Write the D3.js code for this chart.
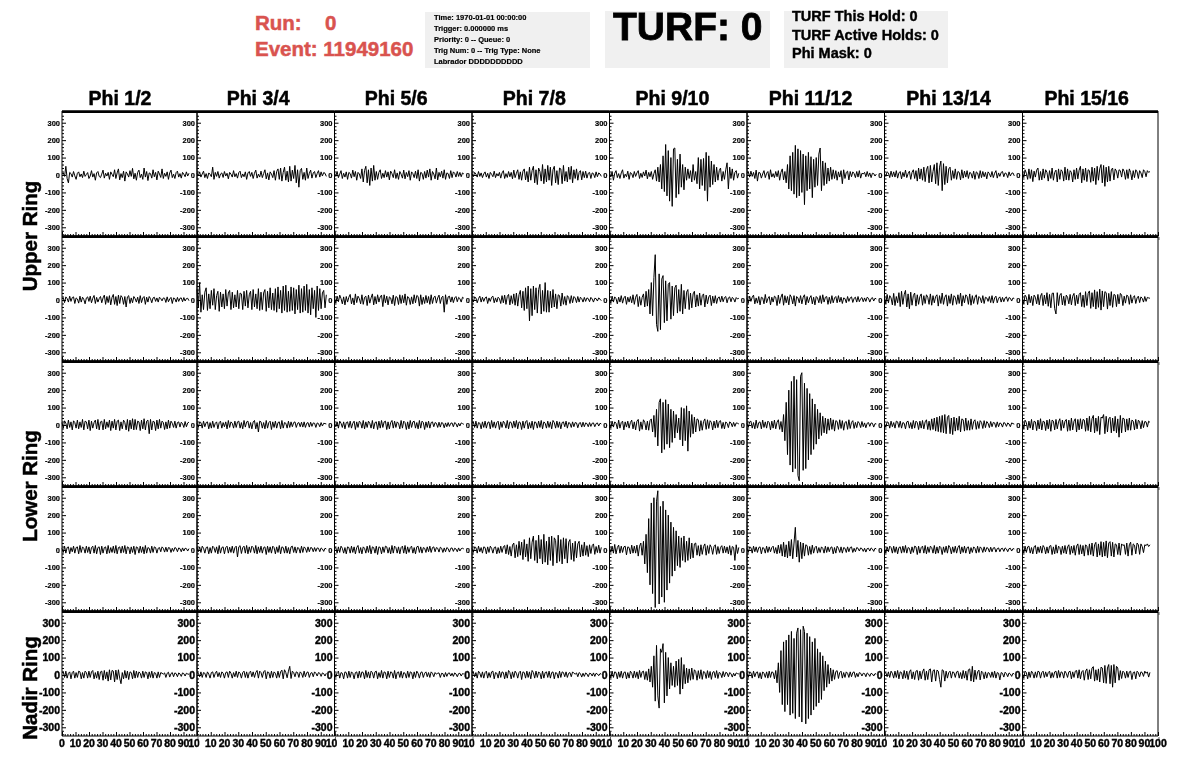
<!DOCTYPE html>
<html><head><meta charset="utf-8">
<script src="https://cdn.jsdelivr.net/npm/d3@7"></script>
<style>
body{margin:0;background:#fff}
svg{color:#000}
text{font-family:"Liberation Sans",Arial,Helvetica,sans-serif;font-weight:bold;stroke:#000;stroke-width:0.4px}
text.sm{stroke-width:0.18px}
text.red{stroke:#d9534f;stroke-width:0.5px}
</style>
</head><body>
<svg id="c" width="1196" height="772"></svg>
<script>
// ---------------- DATA ----------------
const runNumber = "0";
const eventNumber = "11949160";
const infoLines = ["Time: 1970-01-01 00:00:00","Trigger: 0.000000 ms","Priority: 0 -- Queue: 0","Trig Num: 0 -- Trig Type: None","Labrador DDDDDDDDDD"];
const turfText = "TURF: 0";
const turfLines = ["TURF This Hold: 0","TURF Active Holds: 0","Phi Mask: 0"];
const phiLabels = ["Phi 1/2","Phi 3/4","Phi 5/6","Phi 7/8","Phi 9/10","Phi 11/12","Phi 13/14","Phi 15/16"];
const ringLabels = ["Upper Ring","Lower Ring","Nadir Ring"];
const yTicks = [-300,-200,-100,0,100,200,300];
const xTicks = [0,10,20,30,40,50,60,70,80,90,100];
const sampleStep = 0.95; // time between samples (x axis units)

// Upper ring, first row
const U1_P01 = [5,12,-8,50,-20,-45,15,8,-12,20, -5,-25,10,18,-10,6,-15,22,-8,3, 14,-20,-6,25,-12,8,-30,12,20,-8, -15,5,28,-18,10,-6,15,-25,18,4, -10,30,-20,12,35,-28,8,-15,22,-35, 18,6,-12,25,-8,38,-22,10,-30,15, 28,-15,5,-25,40,-12,20,-32,12,8, -18,30,-10,15,-28,22,6,-14,35,-20, 10,-8,18,-25,12,28,-15,5,-20,14, 22,-12,8,-18,15,4,-10,18,-6,10];
const U1_P03 = [10,-5,18,-12,6,22,-15,8,-20,12, 4,-10,45,-25,15,-8,20,-18,6,12, -14,20,-6,10,-22,15,5,-12,25,-10, 8,-18,14,22,-15,6,-10,18,-25,12, 20,-8,15,-20,10,28,-18,5,-12,22, -15,8,30,-22,12,-28,18,6,-15,25, -30,20,35,-25,40,-35,15,45,-30,22, -40,50,-35,28,-20,55,-45,30,-70,25, 38,-25,15,-30,40,-20,10,28,-18,12, 20,-15,8,25,-12,18,-6,14,10,-8];
const U1_P05 = [12,-8,20,-15,5,25,-20,10,-12,18, -25,15,8,-18,28,-10,20,-30,15,6, -20,35,-40,25,50,-45,30,-60,40,-35, 55,-30,20,-25,15,30,-20,10,-15,25, -12,18,-28,22,8,-15,30,-20,12,-25, 20,5,-18,28,-22,15,-10,25,-30,18, 8,-15,22,-20,30,-35,15,10,-25,20, -18,28,-12,35,-30,20,6,-22,40,-28, 15,-10,22,-18,30,-25,12,8,-20,25, -15,18,10,-12,20,-8,15,-10,12,6];
const U1_P07 = [8,-10,15,5,-12,20,-8,12,-15,6, 18,-12,10,-20,15,4,-10,22,-15,8, -6,15,-18,12,25,-20,8,-14,20,-10, 15,-22,28,-15,10,30,-25,18,-30,22, 35,-28,20,-40,45,-30,25,50,-45,30, -55,40,20,-35,60,-50,35,-40,55,-30, 45,-60,30,50,-45,25,-55,40,35,-50, 55,-35,20,-40,45,-25,50,-45,30,-20, 35,-30,15,25,-28,20,-15,22,-18,10, 15,-20,12,8,-15,18,-10,12,6,-8];
const U1_P09 = [15,-12,20,-30,10,25,-15,8,-20,12, 30,-18,5,-10,22,-25,14,8,-15,20, -8,12,25,-20,10,-14,18,-6,28,-22, 15,-10,20,-25,8,30,-35,45,-40,60, -80,110,-95,175,-120,140,-150,100,-180,150, 155,-130,90,-110,120,-70,60,-85,45,-30, 35,-20,25,-40,60,-30,20,-50,100,-80, 90,-60,95,-90,130,-150,110,-70,80,-55, 60,-40,45,-30,25,40,-35,20,-25,30, 70,-80,45,-20,35,-30,15,25,-18,10];
const U1_P11 = [10,18,-12,22,-8,15,-20,28,-35,15, 12,-18,6,25,-15,10,20,-25,30,-12, 8,-15,20,-10,25,-30,15,35,-28,20, -45,60,-80,110,-90,130,-110,170,-130,150, -120,140,-100,120,-170,110,-90,130,-80,105, -130,90,-70,100,-60,120,155,-90,80,-60, 70,-50,40,-35,45,-25,30,-20,25,-30, 18,-12,25,-50,30,-20,15,22,-28,20, -10,18,8,-15,20,-12,25,-18,10,6, 15,-10,20,-8,12,-15,10,8,-6,5];
const U1_P13 = [10,-8,18,12,-15,22,-10,18,-12,25, -18,12,20,-22,15,-10,28,-15,8,22, -25,15,30,-20,25,-35,40,-22,35,-30, 45,-38,30,50,-45,55,-40,20,60,-50, 70,-60,45,80,-90,65,-55,50,-45,35, 45,-30,25,-20,35,-25,20,15,-28,30, -18,22,-12,25,-20,15,10,-18,22,-25, 18,12,-20,25,-15,20,-10,15,-22,18, 8,-12,20,-15,10,25,-18,12,-8,15, 20,-10,12,8,-15,18,-6,10,12,-5];
const U1_P15 = [20,-15,30,10,-25,35,-20,30,-38,22, -12,28,40,-30,20,-28,35,-18,30,15, -35,25,-20,40,-30,15,28,-40,35,-25, 30,20,-35,45,-28,35,-30,25,15,-40, 30,-25,40,-22,28,50,-45,35,-30,40, -38,30,25,-42,45,-35,40,-55,50,-30, 35,60,-45,55,-65,45,-40,50,-35,30, 40,-28,35,22,-18,30,25,-12,35,20, -25,30,-20,35,15,-28,25,-15,30,18, -20,25,12,-15,30,20,-10,25,15,20];
// Upper ring, second row
const U2_P01 = [6,12,-15,18,8,-12,22,-8,14,18, -20,12,6,-18,22,-12,16,4,-22,12, 18,-8,22,-16,10,26,-20,15,-12,8, 20,-16,12,28,-25,20,-15,25,-28,15, 32,-25,20,-32,28,-20,25,15,-25,20, -40,18,25,-20,12,-16,20,8,-12,16, -20,25,-15,12,20,-25,16,-12,20,8, -16,12,16,-8,12,-12,16,8,-5,12, 10,-14,18,-10,6,15,-20,12,8,-12, 15,-8,10,12,-10,14,-6,8,10,-4];
const U2_P03 = [60,-40,100,-70,30,-55,45,70,-60,35, -50,55,-30,65,-55,25,50,-65,45,-40, 35,-50,60,-35,40,55,-55,45,-45,30, -40,55,-50,40,35,-55,50,-35,55,-45, 30,50,-55,60,-40,35,-50,65,-60,45, -55,40,60,-65,50,-45,70,-55,40,-60, 65,-70,75,-50,55,-75,80,-60,85,-70, 50,-65,75,-60,70,-80,60,-55,85,-75, 65,-70,80,-60,90,-75,60,-85,70,-50, 55,-100,80,-60,65,-50,40,55,-45,30];
const U2_P05 = [15,-18,22,-10,28,8,-22,18,-28,20, -12,16,32,-22,12,-28,35,-15,22,8, -22,30,-25,15,22,-32,28,-18,12,35, -28,20,-22,30,-12,18,28,-38,30,-16, 22,-28,18,12,-22,28,-32,20,15,-26, 30,-20,26,-16,35,-30,20,12,-26,18, -22,30,-16,26,20,-35,30,-26,16,-20, 26,-16,20,-25,30,-20,15,22,-18,12, 28,-20,15,22,-70,30,-25,18,22,-12, 18,-15,12,20,-10,15,8,-12,16,10];
const U2_P07 = [8,-12,18,12,-16,8,22,-12,16,-8, 12,18,-20,12,-8,16,22,-16,12,-12, 16,8,-20,25,-16,28,-25,20,32,-28, 25,-20,35,-30,40,-35,30,55,-45,50, -60,70,-50,80,-120,65,-90,80,-55,70, -75,60,90,-80,55,-65,100,-70,55,-70, 50,-45,60,-40,35,-50,30,25,-35,40, -25,20,-30,25,15,-20,25,-16,20,12, -15,20,-12,16,8,-12,15,-8,12,8, -10,15,6,-12,10,8,-6,12,5,-4];
const U2_P09 = [10,-18,22,-12,18,8,-22,16,-12,25, -18,12,22,-25,16,-12,20,-16,30,-25, 16,32,-38,20,-30,15,35,-40,50,-35, 60,-80,100,-90,130,260,-140,-180,150,-170, 120,140,-130,110,-120,90,100,-110,80,-90, 70,85,-75,60,-65,90,-80,55,-50,45, 60,-55,40,-45,35,50,-40,30,-35,40, -30,25,35,-40,28,-22,18,28,-32,22, -18,25,-20,12,18,-12,22,-10,14,20, -16,12,18,-10,15,8,-12,14,6,10];
const U2_P11 = [12,-18,22,-8,16,28,-22,12,-18,20, -28,16,12,-22,32,-16,8,20,-28,16, -12,22,16,-32,28,-20,16,35,-30,25, -16,20,-28,30,16,-22,25,-35,20,12, -16,25,-22,16,30,-28,20,-16,12,25, -22,16,-28,20,12,-16,25,-20,30,-12, 16,20,-25,16,-20,25,-16,12,20,-16, 25,-12,16,-20,12,8,-16,20,-8,12, 18,-14,10,16,-12,20,-10,8,14,-10, 12,-8,16,10,-12,8,14,-6,10,6];
const U2_P13 = [18,-22,32,-16,25,12,-28,38,-32,20, -16,42,-38,50,-25,30,55,-40,35,-50, 45,-30,25,40,-35,30,-25,20,35,-30, 25,-20,30,16,-25,35,-30,25,-16,20, 30,-35,25,-20,40,-25,16,30,-35,25, -20,35,-30,25,16,-25,30,-20,40,-35, 25,-16,30,20,-25,35,-30,25,-20,16, 30,-25,20,12,-16,25,-20,16,12,-8, 20,-15,25,-18,12,22,-16,10,18,-12, 15,-10,12,18,-8,14,10,-6,12,8];
const U2_P15 = [12,-22,28,16,-28,32,-16,22,-32,28, 16,-22,32,-28,22,38,-32,28,-22,42, -36,32,-45,38,40,-50,-80,42,-32,28, 38,-28,22,-32,28,16,-22,32,-28,22, 38,-32,28,-22,32,42,-38,28,-42,48, -32,38,52,-48,42,-38,58,-52,48,-42, 62,-58,52,-38,48,42,-52,38,-32,48, -42,32,28,-38,32,-22,38,28,-32,22, -18,28,22,-25,30,-18,15,25,-20,12, 22,-15,18,10,-12,20,-8,15,12,10];
// Lower ring, first row
const L1_P01 = [14,-18,24,10,-22,28,-14,18,-28,24, 14,-18,28,-22,18,-14,32,-28,22,18, -22,28,-32,22,-18,14,28,-22,32,-28, 18,22,-28,32,-22,18,-14,28,-32,22, -18,32,-28,22,28,-32,18,-22,28,14, -28,32,-36,28,-22,36,-28,32,-26,22, 18,-32,28,-22,36,-28,22,28,-50,32, -28,22,18,-32,28,-22,32,-18,22,14, -26,18,-22,28,-18,22,10,-14,22,-18, 14,18,-12,16,8,-14,20,-10,12,16];
const L1_P03 = [10,-14,18,14,-18,22,-10,14,18,-22, 14,-18,22,-14,10,18,-22,14,22,-18, 14,-10,18,-22,26,-14,18,10,-18,22, -14,18,22,-18,14,-22,26,-12,18,22, -18,14,-22,18,26,-22,14,-40,22,18, -18,14,-22,26,-18,14,22,-26,18,-14, 22,-18,14,18,-22,26,-18,14,10,-18, 22,-14,18,-10,14,18,-14,10,14,-10, 16,-12,18,-14,10,14,-12,16,-8,12, 10,-14,12,8,-10,14,-6,10,8,6];
const L1_P05 = [14,-10,18,-18,22,10,-14,18,-22,14, 18,-14,22,-18,10,22,-26,18,-14,22, 14,-18,26,-22,18,-14,22,10,-18,26, -22,14,18,-26,22,-18,26,-14,18,22, -26,18,-22,14,26,-18,22,-14,18,10, -22,26,-18,22,14,-26,18,-22,26,-14, 18,22,-18,14,-22,26,-18,22,14,-26, 18,-14,22,-18,14,18,-10,14,10,-14, 16,-12,14,10,-16,12,-10,14,-8,10, 12,-10,14,8,-12,10,-6,12,8,4];
const L1_P07 = [10,18,-14,22,-18,14,10,-22,18,-14, 22,-18,14,18,-22,26,-14,18,-18,14, 22,-26,18,-14,22,10,-18,26,-22,18, 14,-18,22,-14,26,-22,18,14,-26,22, -18,18,26,-22,14,-18,22,-26,18,14, -18,22,-14,26,-22,18,10,-18,22,-14, 18,-22,26,14,-18,22,-14,18,-22,14, 18,-10,22,-18,14,10,-14,18,-10,14, 12,-16,10,14,-12,16,-10,12,8,-10, 14,-8,10,12,-10,8,12,-6,10,6];
const L1_P09 = [14,-18,22,-12,18,10,-22,28,-18,14, 22,-28,18,-12,22,-18,14,28,-22,18, -28,22,32,-35,18,-25,30,15,-28,22, -30,25,35,-40,55,-70,90,-120,130,150, -160,130,-140,145,-110,120,-130,90,-100,80, -75,60,-45,40,-85,100,-120,95,-90,110, -150,80,-70,60,-50,45,-40,35,30,-35, 25,-30,20,35,-25,30,-20,25,15,-28, 22,-18,28,-15,20,25,-20,15,-22,18, 10,-15,18,12,-10,15,-8,12,10,6];
const L1_P11 = [10,-14,18,22,-18,14,-22,28,-18,14, 18,-22,28,-14,18,-18,22,14,-28,22, -18,28,-22,16,30,-25,20,-40,60,-90, 130,-170,200,-230,250,-270,280,-250,260,-290, -320,280,300,-260,240,-250,210,-200,180,-170, 150,-140,120,-110,90,-80,70,-60,50,-45, 40,-50,35,-30,40,-25,30,-35,25,20, -25,30,-20,25,-30,15,20,-25,30,-20, 15,25,-20,15,-15,20,10,-15,20,-10, 12,-16,10,14,-8,12,10,-12,8,6];
const L1_P13 = [10,-14,18,14,-18,22,-10,14,-18,22, 18,-14,22,-18,14,10,-22,18,22,-18, 14,-22,26,-18,22,14,-26,22,-18,26, -22,18,30,-26,22,-30,35,-26,40,-35, 45,-38,50,-42,55,-45,60,-50,45,55, -50,40,-55,45,-35,40,-30,50,-40,35, 30,-35,40,-30,25,-30,35,-25,20,30, -25,20,-20,25,15,-20,25,-15,20,10, -15,20,-10,15,12,-14,18,-10,12,8, -12,14,10,-8,12,6,-10,12,8,5];
const L1_P15 = [18,-22,28,14,-28,22,-18,32,-28,22, 18,-32,28,-22,36,-28,22,18,-32,28, -22,32,-36,28,22,-28,32,-22,18,36, -32,28,-18,22,32,-36,28,-32,40,-28, 22,36,-40,32,-28,36,-22,32,28,-36, 40,-32,50,-40,36,55,-45,40,-36,50, -55,45,40,60,-50,50,-40,35,45,-45, 40,-35,50,-45,35,-70,55,-45,40,35, -40,35,-30,40,-30,28,22,-28,32,-22, 28,18,-22,25,-15,20,18,-12,22,15];
// Lower ring, second row
const L2_P01 = [10,-14,22,-18,14,18,-22,14,-10,22, -18,14,18,-22,26,-14,18,10,-18,22, -14,18,-22,14,22,-18,26,-22,14,18, -26,22,-18,14,18,-22,26,-18,14,-14, 22,-18,26,-22,14,18,-18,22,-14,26, -22,18,14,-22,18,-14,22,-26,18,14, -18,22,-14,18,-22,26,-18,14,10,-18, 22,-14,18,14,-18,10,14,-10,18,10, -12,16,-10,14,12,-14,10,-8,14,10, -10,12,8,-10,12,-6,10,8,-6,8];
const L2_P03 = [14,-10,18,-14,22,10,-18,14,18,-22, 14,-18,22,14,-14,18,-22,26,-18,14, 18,-22,14,22,-18,16,-14,22,-18,14, 22,-40,18,25,-20,14,22,-18,26,-22, 18,-14,22,14,-18,26,-22,18,-14,22, -18,14,18,-26,22,-14,18,-18,22,14, -22,18,-14,26,-22,18,14,-18,22,-18, 14,-22,18,22,-14,18,-18,14,10,-18, 22,-14,18,10,-14,18,-10,14,12,-10, 14,-8,12,10,-10,12,6,-8,10,6];
const L2_P05 = [10,14,-18,18,-14,22,10,-18,14,-22, 18,14,-18,22,-14,18,-22,14,26,-18, 14,-22,18,10,-18,22,-14,26,-22,18, 14,-18,22,-26,18,14,-22,18,-14,22, 18,-18,14,-22,26,-18,22,14,-18,18, -22,14,22,-18,26,-22,18,-14,14,22, -18,14,-22,18,22,-14,18,-18,14,10, -14,18,-10,22,-14,14,18,-10,14,10, -12,16,10,-14,12,-10,14,8,-12,10, 12,-8,10,6,-10,12,-6,8,10,6];
const L2_P07 = [10,-14,18,14,-18,22,-10,14,-18,18, 14,-22,18,-14,22,10,-18,14,18,-22, 14,-18,22,-14,18,26,-22,30,-26,20, -35,28,40,-45,30,-38,50,-30,45,-55, 60,-40,35,-65,70,-50,45,80,-60,55, -75,85,-50,60,-80,90,-70,50,-85,75, -60,80,-90,70,55,-75,85,-65,60,-80, 70,-50,65,-75,45,60,-55,40,-65,50, -45,35,50,-40,30,-35,45,-30,25,-38, 30,-20,25,35,-25,20,-15,28,-18,15];
const L2_P09 = [18,-14,22,-18,32,-22,14,28,-18,22, -14,18,22,-28,18,14,-22,28,-18,22, -18,28,-35,22,40,-30,50,-80,90,-130, 180,-200,270,-250,300,-330,280,340,-310,250, -270,280,-300,230,-230,200,-190,160,-150,130, -120,110,-90,80,-100,70,-60,80,-70,50, -60,70,-50,40,-45,35,40,-30,25,-35, 30,-25,20,35,-30,25,-20,30,15,-25, 20,30,-25,20,-20,15,25,-18,22,-15, 18,-22,25,-30,20,15,-60,30,-20,15];
const L2_P11 = [10,-14,18,14,-18,22,-10,18,-14,14, 18,-22,14,10,-18,22,-14,18,-10,14, 22,-18,14,-22,28,-18,32,-35,45,-40, 30,-45,50,-35,60,-50,40,130,-40,55, -70,45,-50,40,-35,30,25,-30,20,-25, 28,-18,14,22,-18,14,-14,18,10,-18, 22,-14,18,-10,14,18,-22,14,-18,22, 10,-14,18,-18,14,10,-14,18,-10,14, 18,-14,10,-10,14,10,-6,12,8,-8, 10,-12,8,10,-6,12,6,-8,10,6];
const L2_P13 = [14,-18,18,-10,22,14,-18,22,-14,18, -22,14,18,-18,22,-14,26,-18,14,10, -22,18,-14,22,18,-26,22,-18,14,22, -18,26,-22,18,-14,22,14,-18,26,-22, 18,-18,22,14,-26,18,-14,22,-18,26, 14,-22,18,-14,22,-18,14,26,-22,18, -14,22,-18,14,18,-22,14,-14,18,10, -18,22,-14,18,10,-14,18,-10,14,10, -12,16,-10,12,14,-12,8,12,-10,8, 10,-8,12,6,-10,8,10,-6,8,6];
const L2_P15 = [14,-18,22,-14,18,22,-18,14,-22,18, 26,-22,18,-14,22,-18,26,14,-22,18, -18,22,26,-26,18,-22,30,-18,22,14, -26,22,-18,26,-22,18,30,-26,22,-18, 26,-30,22,35,-26,30,-22,26,-35,30, 22,-30,35,-26,40,-35,30,44,-40,35, -30,48,-40,44,-35,52,-44,40,48,-35, 44,-40,35,30,-26,40,-30,35,26,30, -25,40,-35,30,45,-30,35,28,-22,40, 30,-25,35,20,-15,30,25,35,20,30];
// Nadir ring
const N_P01 = [14,18,-14,22,-18,10,18,-22,14,22, -18,14,-14,22,18,-22,14,-18,22,14, -18,22,-14,18,26,-22,14,-18,22,-26, 18,22,-30,26,-22,18,-35,30,-28,26, 22,-40,28,-26,30,-18,-50,14,-22,26, -18,22,-26,18,14,-22,26,-18,22,-14, 18,10,-18,22,-14,18,14,-22,18,-14, 22,-18,14,10,-18,18,-14,14,10,5, 12,-14,10,16,-12,8,14,-10,12,8, -10,12,6,-8,12,8,-6,10,6,4];
const N_P03 = [14,10,-10,18,-14,14,10,-14,18,5, -18,14,18,-14,10,22,-10,14,-14,18, 10,-18,14,18,-14,22,10,-18,14,-10, 22,-14,18,10,-18,14,22,-14,18,-18, 14,22,-10,18,-14,14,26,-18,22,14, -14,18,26,-22,18,14,-18,22,-14,18, 10,-18,22,-14,18,28,-22,30,14,-16, 22,50,-20,22,14,-10,18,14,-14,18, 10,-14,22,-10,14,18,-14,10,14,-10, 18,10,-6,14,10,-8,12,8,-6,10];
const N_P05 = [18,-14,14,22,-18,14,10,-22,18,14, -18,22,-14,18,10,-22,14,18,-18,22, -14,18,14,-22,26,-14,18,-18,22,14, -18,18,22,-22,14,-14,26,-18,18,14, -22,22,-14,18,14,-18,26,-22,14,18, -14,22,-18,14,10,-18,22,-14,18,14, -22,18,-14,22,10,-18,14,18,-14,10, 18,-10,14,-14,18,10,-10,14,5,10, 12,-14,10,8,-12,14,-8,10,12,-6, 10,-8,12,6,-10,8,10,-6,8,6];
const N_P07 = [14,18,-10,14,-18,22,10,-14,18,-18, 14,22,-18,14,-14,18,22,-22,14,10, -18,22,-14,18,14,-22,18,-18,26,14, -22,18,-14,22,10,-18,14,22,-26,18, 14,-18,22,-14,18,-22,26,14,-18,22, -14,18,10,-22,22,-18,14,18,-14,22, -18,14,18,-22,14,10,-18,22,-14,18, 14,-10,18,-14,10,14,-10,18,10,5, 12,-10,14,8,-12,10,-8,12,6,-10, 10,8,-6,12,-8,10,6,-4,8,5];
const N_P09 = [14,-18,22,-14,18,14,-22,18,-14,22, -18,14,18,-22,14,-18,22,10,-18,22, -14,18,-22,26,-14,18,22,-26,20,-30, 35,-40,50,-70,110,-150,170,-120,-190,150, 130,180,-160,130,-120,100,-80,70,-60,50, -70,80,-60,90,-110,100,-80,60,-50,40, -45,35,-30,40,-25,30,20,-30,25,-20, 30,-25,20,15,-20,25,-15,20,-25,15, 20,-15,25,-20,15,10,-15,20,-10,15, 12,-10,14,8,-12,10,-6,12,8,6];
const N_P11 = [10,-14,18,14,-18,22,-10,14,18,-18, 14,-22,18,10,-14,18,-18,22,-14,18, 14,-22,26,-45,70,-100,140,-170,190,-210, 200,-170,230,-230,250,-220,210,-250,240,270, -240,260,-270,280,250,-280,240,-250,220,-230, 190,-200,210,-180,150,-160,130,-140,110,-90, 80,-70,60,-50,40,-35,30,-25,20,25, -20,14,22,-18,14,-14,18,10,-14,18, -10,14,18,-14,10,-10,14,10,-6,10, 8,-10,12,6,-8,10,6,-6,8,5];
const N_P13 = [10,14,-10,18,-14,22,10,-18,22,-14, 26,-22,18,14,-22,26,-18,22,-26,18, 30,-22,18,-26,22,26,-30,22,-22,18, 35,-30,22,-26,30,35,-40,25,30,-35, 28,22,-25,-70,30,25,-35,22,-18,14, 22,-18,18,14,-14,18,22,-18,14,-22, 26,-18,22,-30,30,35,-35,50,-40,28, -25,18,28,-28,22,14,-22,18,-18,14, 10,-14,18,-14,22,-18,14,10,-28,14, 10,-12,16,8,-10,12,6,-8,10,5];
const N_P15 = [10,-18,22,14,-22,18,-14,22,10,-18, 18,-14,22,18,-18,14,22,-14,18,-10, 14,22,-18,14,-14,18,22,-18,26,-14, 18,14,-18,22,10,-14,18,22,-22,18, -14,22,26,-18,30,-22,18,26,-30,22, 35,-26,30,-22,40,48,-35,30,-30,35, -40,45,40,-45,55,-48,40,60,-50,55, -70,60,-45,50,40,-30,25,-20,22,14, -18,22,-14,18,22,-26,14,18,-22,22, 14,-10,18,14,-8,22,10,18,-12,15];

// ---------------- LAYOUT ----------------
const FONT = '"Liberation Sans", Arial, Helvetica, sans-serif';
const RED = "#d9534f";
const GRAYBOX = "#f0f0f0";
const colEdges = [62, 197, 334.5, 472, 609.5, 747, 884.5, 1022.5, 1158];
const rowTop0 = 111, rowH = 125;
const grid = [
  [U1_P01, U1_P03, U1_P05, U1_P07, U1_P09, U1_P11, U1_P13, U1_P15],
  [U2_P01, U2_P03, U2_P05, U2_P07, U2_P09, U2_P11, U2_P13, U2_P15],
  [L1_P01, L1_P03, L1_P05, L1_P07, L1_P09, L1_P11, L1_P13, L1_P15],
  [L2_P01, L2_P03, L2_P05, L2_P07, L2_P09, L2_P11, L2_P13, L2_P15],
  [N_P01,  N_P03,  N_P05,  N_P07,  N_P09,  N_P11,  N_P13,  N_P15]
];

const svg = d3.select("#c");
svg.append("rect").attr("width",1196).attr("height",772).attr("fill","#fff");

// grayscale filter for the black-and-white parts (removes colour fringes on small text)
const defs = svg.append("defs");
defs.append("filter").attr("id","mono")
  .attr("filterUnits","userSpaceOnUse").attr("x",0).attr("y",0).attr("width",1196).attr("height",772)
  .append("feColorMatrix").attr("type","saturate").attr("values",0);

// ---- header ----
const hdr = svg.append("g");
hdr.append("text").attr("class","red").attr("x",255).attr("y",30).attr("font-size",20.5).attr("fill",RED).text("Run:");
hdr.append("text").attr("class","red").attr("x",325).attr("y",30).attr("font-size",20.5).attr("fill",RED).text(runNumber);
hdr.append("text").attr("class","red").attr("x",255).attr("y",56).attr("font-size",20.5).attr("fill",RED).text("Event: " + eventNumber);

const mono = svg.append("g").attr("filter","url(#mono)");
mono.append("rect").attr("x",425).attr("y",12).attr("width",165).attr("height",56).attr("fill",GRAYBOX);
mono.append("g").selectAll("text").data(infoLines).join("text").attr("class","sm")
  .attr("x",434).attr("y",(d,i)=>19.5 + i*11.2).attr("font-size",7.5).attr("fill","#000").text(d=>d);

mono.append("rect").attr("x",605).attr("y",11).attr("width",165).attr("height",57).attr("fill",GRAYBOX);
mono.append("text").attr("x",613).attr("y",40).attr("font-size",39).attr("fill","#000").style("stroke-width","0.8px").text(turfText);

mono.append("rect").attr("x",784).attr("y",11).attr("width",164).attr("height",57).attr("fill",GRAYBOX);
mono.append("g").selectAll("text").data(turfLines).join("text")
  .attr("x",792).attr("y",(d,i)=>21 + i*18.6).attr("font-size",14.5).attr("fill","#000").text(d=>d);

// ---- column headers ----
mono.append("g").selectAll("text").data(phiLabels).join("text")
  .attr("x",(d,i)=>120 + i*138.1).attr("y",105).attr("text-anchor","middle")
  .attr("font-size",19.5).attr("fill","#000").style("stroke-width","0.5px").text(d=>d);

// ---- ring labels ----
const ringCenters = [236, 486, 688];
ringLabels.forEach((lab,i)=>{
  mono.append("text").attr("transform",`translate(37,${ringCenters[i]}) rotate(-90)`)
    .attr("text-anchor","middle").attr("font-size",20.5).attr("fill","#000").style("stroke-width","0.5px").text(lab);
});

// ---- panels ----
const yMinor = d3.range(-340, 341, 20).filter(v => v % 100 !== 0);
const xMinor = d3.range(0, 101, 2).filter(v => v % 10 !== 0);
const plainFmt = d => String(d); // ASCII hyphen-minus like the original

grid.forEach((row, r) => {
  const top = rowTop0 + r * rowH, bottom = top + rowH;
  const big = (r === 4);
  row.forEach((wave, c) => {
    const x0 = colEdges[c], x1 = colEdges[c+1];
    const x = d3.scaleLinear().domain([0,100]).range([x0, x1]);
    const y = d3.scaleLinear().domain([-350,350]).range([bottom, top + 3]);
    const g = mono.append("g");

    // waveform
    g.append("path").datum(wave)
      .attr("fill","none").attr("stroke","#000").attr("stroke-width",1)
      .attr("d", d3.line().x((d,i)=>x(i*sampleStep)).y(d=>y(d)));

    // left y axis (major ticks + labels)
    const ya = g.append("g").attr("transform",`translate(${x0},0)`)
      .call(d3.axisLeft(y).tickValues(yTicks).tickFormat(plainFmt).tickSizeInner(-4).tickSizeOuter(0).tickPadding(2));
    ya.select(".domain").remove();
    ya.selectAll("text").attr("class", big ? null : "sm").attr("font-family",FONT).attr("font-weight","bold")
      .attr("font-size", big ? 10.5 : 7.5).attr("fill","#000");
    // minor y ticks
    const ym = g.append("g").attr("transform",`translate(${x0},0)`)
      .call(d3.axisLeft(y).tickValues(yMinor).tickSizeInner(-2).tickSizeOuter(0).tickFormat(""));
    ym.select(".domain").remove();

    // bottom axis ticks
    const xa = g.append("g").attr("transform",`translate(0,${bottom})`)
      .call(d3.axisBottom(x).tickValues(xTicks).tickSizeInner(-4).tickSizeOuter(0).tickFormat(""));
    xa.select(".domain").remove();
    const xm = g.append("g").attr("transform",`translate(0,${bottom})`)
      .call(d3.axisBottom(x).tickValues(xMinor).tickSizeInner(-2).tickSizeOuter(0).tickFormat(""));
    xm.select(".domain").remove();

    // frame lines
    g.append("line").attr("x1",x0).attr("x2",x0).attr("y1",top).attr("y2",bottom).attr("stroke","#000").attr("stroke-width",1);
    g.append("line").attr("x1",x1).attr("x2",x1).attr("y1",top).attr("y2",bottom).attr("stroke","#000").attr("stroke-width",1);
    g.append("line").attr("x1",x0).attr("x2",x1).attr("y1",bottom).attr("y2",bottom).attr("stroke","#000").attr("stroke-width",1);
    g.append("line").attr("x1",x0).attr("x2",x1).attr("y1",top+0.6).attr("y2",top+0.6).attr("stroke","#000").attr("stroke-width",2.6);
    // tiny corner mark
    g.append("line").attr("x1",x1+1).attr("x2",x1+1).attr("y1",bottom+1).attr("y2",bottom+4).attr("stroke","#666").attr("stroke-width",1);

    // bottom labels on nadir row
    if (big) {
      const clipId = "xclip" + c;
      const cx0 = x0 - 20, cx1 = (c === 7) ? x1 + 30 : x1 + 2.5;
      defs.append("clipPath").attr("id",clipId).append("rect")
        .attr("x",cx0).attr("y",bottom).attr("width",cx1 - cx0).attr("height",30);
      g.append("g").attr("clip-path",`url(#${clipId})`)
        .selectAll("text").data(xTicks.filter(v => c === 0 || v > 0)).join("text")
        .attr("x", d => x(d)).attr("y", bottom + 10.5).attr("text-anchor","middle")
        .attr("font-size",10.5).attr("fill","#000").text(d => d);
    }
  });
});
</script>
</body></html>
